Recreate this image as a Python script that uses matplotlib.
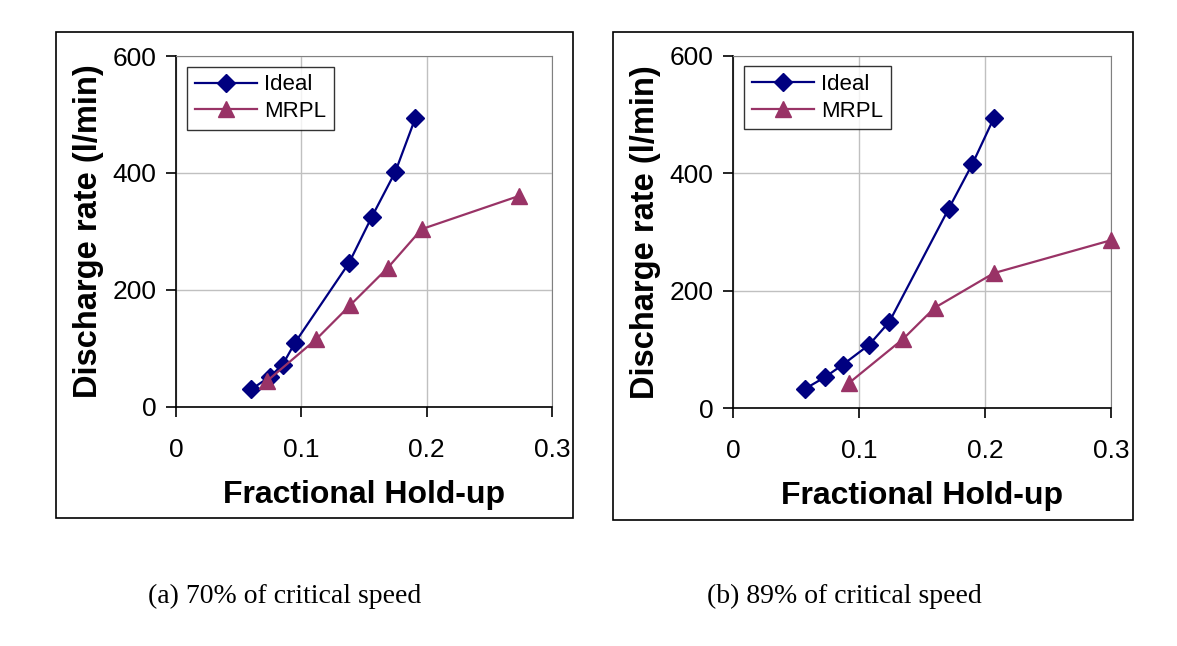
import matplotlib.pyplot as plt
from matplotlib.patches import Rectangle

# Data
# (a) 70% of critical speed
ideal_a_x = [0.060, 0.075, 0.085, 0.095, 0.138, 0.156, 0.175, 0.191]
ideal_a_y = [30, 52, 72, 110, 246, 324, 402, 494]
mrpl_a_x = [0.073, 0.112, 0.139, 0.169, 0.196, 0.274]
mrpl_a_y = [45, 116, 174, 238, 304, 361]

# (b) 89% of critical speed
ideal_b_x = [0.057, 0.073, 0.087, 0.108, 0.124, 0.171, 0.190, 0.207]
ideal_b_y = [33, 53, 74, 108, 147, 339, 416, 494]
mrpl_b_x = [0.092, 0.135, 0.160, 0.207, 0.300]
mrpl_b_y = [43, 118, 171, 230, 286]

captions = ["(a) 70% of critical speed", "(b) 89% of critical speed"]
x_ticks = [0, 0.1, 0.2, 0.3]
x_tick_labels = ["0", "0.1", "0.2", "0.3"]
y_ticks = [0, 200, 400, 600]

NAVY = "#000080"
PLUM = "#993366"

plt.rcParams['font.family'] = ['Liberation Sans', 'DejaVu Sans']

fig = plt.figure(figsize=(11.77, 6.46), dpi=100)

panels = [
    dict(rect=[0.1495, 0.370, 0.3195, 0.5433], box=(56, 32, 573, 518),
         ideal=(ideal_a_x, ideal_a_y), mrpl=(mrpl_a_x, mrpl_a_y),
         cap_x=148),
    dict(rect=[0.6228, 0.368, 0.3212, 0.5458], box=(613, 32, 1133, 520),
         ideal=(ideal_b_x, ideal_b_y), mrpl=(mrpl_b_x, mrpl_b_y),
         cap_x=707),
]

W, H = 1177, 646
for p, cap in zip(panels, captions):
    # outer frame around each chart
    x0, y0, x1, y1 = p['box']
    fig.patches.append(Rectangle((x0 / W, 1 - y1 / H), (x1 - x0) / W, (y1 - y0) / H,
                                 transform=fig.transFigure, fill=False,
                                 edgecolor='black', linewidth=1.2))

    ax = fig.add_axes(p['rect'])
    ax.plot(*p['ideal'], color=NAVY, marker='D', markersize=9, linewidth=1.6,
            label='Ideal', clip_on=False, zorder=3)
    ax.plot(*p['mrpl'], color=PLUM, marker='^', markersize=11, linewidth=1.6,
            label='MRPL', clip_on=False, zorder=3)

    ax.set_xlim(0, 0.3)
    ax.set_ylim(0, 600)
    ax.set_xticks(x_ticks)
    ax.set_xticklabels(x_tick_labels)
    ax.set_yticks(y_ticks)
    ax.grid(True, color='#c0c0c0', linewidth=1)
    ax.set_axisbelow(True)
    for s in ['top', 'right']:
        ax.spines[s].set_color('#808080')
    for s in ['left', 'bottom']:
        ax.spines[s].set_color('black')
        ax.spines[s].set_linewidth(1.2)
    ax.tick_params(direction='out', length=7, width=1.2, labelsize=19, pad=7)
    ax.tick_params(axis='x', pad=15)

    ax.set_xlabel("Fractional Hold-up", fontsize=23, fontweight='bold', labelpad=13)
    ax.set_ylabel("Discharge rate (l/min)", fontsize=23.5, fontweight='bold', labelpad=6)

    leg = ax.legend(loc='upper left', fontsize=16, frameon=True, fancybox=False,
                    edgecolor='black', handlelength=2.8, borderpad=0.35,
                    labelspacing=0.25, handletextpad=0.3, borderaxespad=0,
                    bbox_to_anchor=(0.03, 0.97))
    leg.get_frame().set_linewidth(1.0)

    fig.text(p['cap_x'] / W, 1 - 596 / H, cap, fontsize=20,
             family=['Liberation Serif', 'DejaVu Serif'], va='center', ha='left')

fig.savefig("out.png", dpi=100)
